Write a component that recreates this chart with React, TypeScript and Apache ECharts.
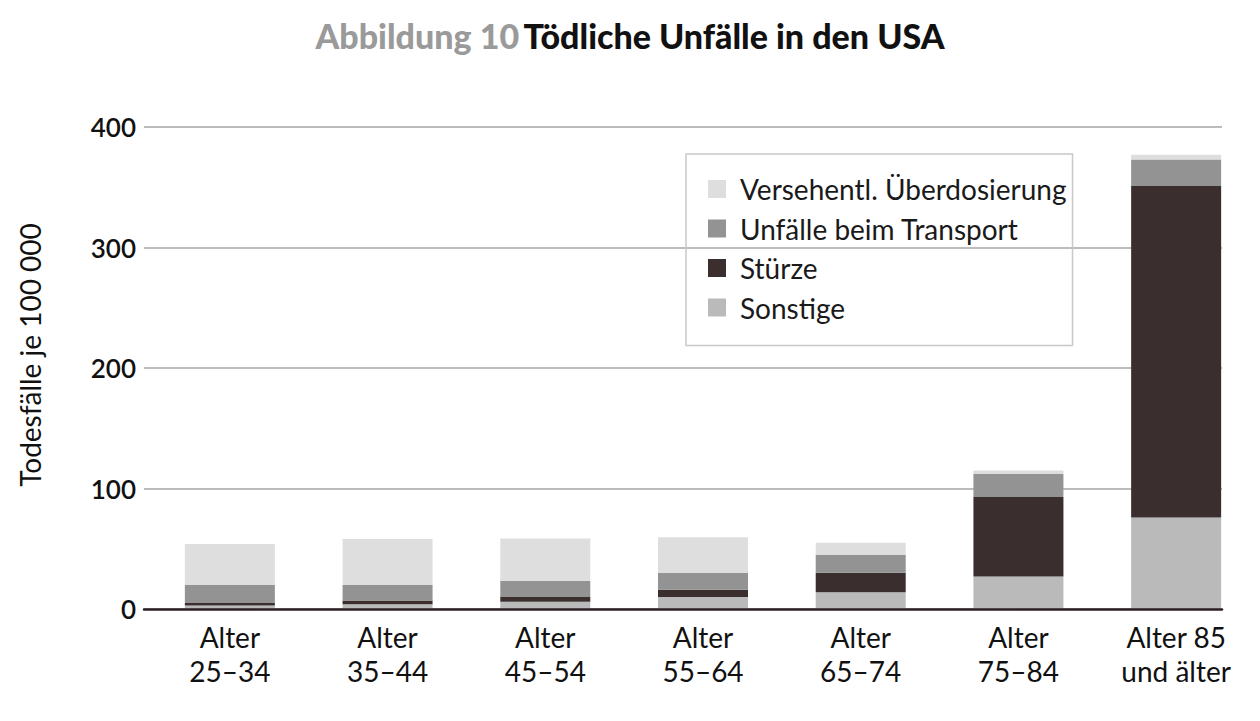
import { useEffect, useRef } from "react";
import * as echarts from "echarts";

// Altersgruppen und Werte (Todesfälle je 100 000), von unten nach oben gestapelt
const categories = [
  "Alter\n25–34",
  "Alter\n35–44",
  "Alter\n45–54",
  "Alter\n55–64",
  "Alter\n65–74",
  "Alter\n75–84",
  "Alter 85\nund älter",
];
const sonstige = [3, 4, 6, 10, 14, 27, 76];
const stuerze = [2, 3, 4, 6, 16, 66, 275];
const transport = [15, 13, 13.5, 14, 15, 19, 22];
const ueberdosierung = [34, 38, 35, 29.5, 10, 3, 4];
const yTicks = [0, 100, 200, 300, 400];

const FONT = "Lato, 'Noto Sans', sans-serif";

const App: React.FC = () => {
  const chartRef = useRef<HTMLDivElement>(null);

  useEffect(() => {
    const chart = echarts.init(chartRef.current!, undefined, { renderer: "svg" });

    const stackSeries = (name: string, data: number[], color: string) => ({
      name,
      type: "bar" as const,
      stack: "total",
      xAxisIndex: 1,
      yAxisIndex: 1,
      barWidth: 90,
      data,
      itemStyle: { color },
      z: 3,
    });

    const option: echarts.EChartsOption = {
      animation: false,
      textStyle: { fontFamily: FONT },
      title: {
        text: "{a|Abbildung 10} {b|Tödliche Unfälle in den USA}",
        left: "center",
        top: 13,
        textStyle: {
          rich: {
            a: { fontFamily: FONT, fontSize: 34, fontWeight: 900, color: "#9a9a9a" },
            b: { fontFamily: FONT, fontSize: 34, fontWeight: 900, color: "#111" },
          },
        },
      },
      graphic: [
        {
          type: "text",
          x: 30,
          y: 355,
          rotation: Math.PI / 2,
          style: {
            text: "Todesfälle je 100 000",
            fontFamily: FONT,
            fontSize: 28,
            fill: "#111",
            align: "center",
            verticalAlign: "middle",
          },
        },
      ],
      legend: {
        orient: "vertical",
        left: 686,
        top: 154,
        padding: [21, 6, 24, 22],
        itemGap: 11.5,
        itemWidth: 18,
        itemHeight: 18,
        icon: "rect",
        borderColor: "#c8c8c8",
        borderWidth: 1.5,
        data: ["Versehentl. Überdosierung", "Unfälle beim Transport", "Stürze", "Sonstige"],
        textStyle: {
          fontFamily: FONT,
          fontSize: 28,
          color: "#1a1a1a",
          padding: [0, 0, 0, 9],
          lineHeight: 27,
        },
      },
      grid: [
        { left: 144, right: 38, top: 127, bottom: 112 },
        { left: 151, right: 5, top: 127, bottom: 112 },
      ],
      xAxis: [
        {
          type: "category",
          gridIndex: 0,
          data: categories,
          axisLine: { lineStyle: { color: "#2b2022", width: 2.5 } },
          axisTick: { show: false },
          axisLabel: { show: false },
          z: 5,
        },
        {
          type: "category",
          gridIndex: 1,
          data: categories,
          axisLine: { show: false },
          axisTick: { show: false },
          axisLabel: {
            fontFamily: FONT,
            fontSize: 28,
            color: "#111",
            lineHeight: 34,
            margin: 11,
          },
        },
      ],
      yAxis: [
        {
          type: "value",
          gridIndex: 0,
          min: yTicks[0],
          max: yTicks[yTicks.length - 1],
          interval: 100,
          axisLine: { show: false },
          axisTick: { show: false },
          axisLabel: { fontFamily: FONT, fontSize: 26, fontWeight: 600, color: "#111", margin: 8 },
          splitLine: { lineStyle: { color: "#a6a6a6", width: 1.5 } },
        },
        {
          type: "value",
          gridIndex: 1,
          min: yTicks[0],
          max: yTicks[yTicks.length - 1],
          interval: 100,
          axisLine: { show: false },
          axisTick: { show: false },
          axisLabel: { show: false },
          splitLine: { show: false },
        },
      ],
      series: [
        stackSeries("Sonstige", sonstige, "#bababa"),
        stackSeries("Stürze", stuerze, "#3a2e2e"),
        stackSeries("Unfälle beim Transport", transport, "#939393"),
        stackSeries("Versehentl. Überdosierung", ueberdosierung, "#dedede"),
      ],
    };
    chart.setOption(option);

    const handleResize = () => chart.resize();
    window.addEventListener("resize", handleResize);
    return () => {
      window.removeEventListener("resize", handleResize);
      chart.dispose();
    };
  }, []);

  return (
    <div
      ref={chartRef}
      style={{ position: "fixed", left: 0, top: 0, width: "1260px", height: "721px", background: "#fff" }}
    />
  );
};

export default App;
